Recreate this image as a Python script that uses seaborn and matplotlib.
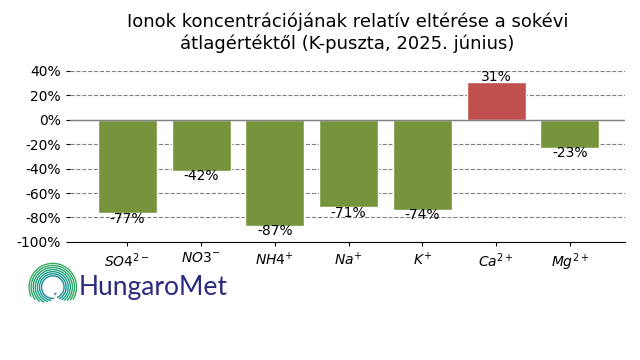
import numpy as np
import matplotlib
matplotlib.use("Agg")
import matplotlib.pyplot as plt
import seaborn as sns
import pandas as pd
from matplotlib.patches import Arc

# Data
ions = [r'$SO4^{2-}$', r'$NO3^{-}$', r'$NH4^{+}$', r'$Na^{+}$', r'$K^{+}$', r'$Ca^{2+}$', r'$Mg^{2+}$']
deviation = [-76.6, -41.6, -86.6, -71.2, -73.6, 31.0, -22.8]
labels = ['-77%', '-42%', '-87%', '-71%', '-74%', '31%', '-23%']
yticks = [40, 20, 0, -20, -40, -60, -80, -100]

green = '#77933C'
red = '#C0504D'

df = pd.DataFrame({'ion': ions, 'dev': deviation})
df['sign'] = np.where(df['dev'] >= 0, 'pos', 'neg')

sns.set_style('white', {'text.color': 'black', 'xtick.color': 'black', 'ytick.color': 'black',
                        'axes.labelcolor': 'black'})
plt.rcParams['font.family'] = ['DejaVu Sans']

fig = plt.figure(figsize=(6.4, 3.6), dpi=100)
ax = fig.add_axes([0.109, 0.328, 0.868, 0.475])

sns.barplot(data=df, x='ion', y='dev', hue='sign', palette={'pos': red, 'neg': green},
            dodge=False, width=0.8, legend=False, ax=ax, saturation=1)

ax.set_ylim(-100, 40)
ax.set_xlim(-0.78, 6.75)
ax.set_yticks(yticks)
ax.set_yticklabels([f'{t}%' for t in yticks])
ax.yaxis.grid(True, linestyle='--', color='gray', linewidth=0.8)
ax.set_axisbelow(True)
ax.axhline(0, color='gray', linewidth=1, zorder=1)
ax.set_xlabel('')
ax.set_ylabel('')
for s in ['top', 'right', 'left']:
    ax.spines[s].set_visible(False)
ax.spines['bottom'].set_color('black')
ax.tick_params(axis='both', which='both', length=3, labelsize=10, left=True, bottom=True,
               colors='black')

for i, (v, lab) in enumerate(zip(deviation, labels)):
    if v >= 0:
        ax.text(i, v - 1.5, lab, ha='center', va='bottom', fontsize=10, color='black')
    else:
        ax.text(i, v + 1.0, lab, ha='center', va='top', fontsize=10, color='black')

ax.set_title('Ionok koncentrációjának relatív eltérése a sokévi\nátlagértéktől (K-puszta, 2025. június)',
             fontsize=13, pad=16, color='black')

# logo swirl
lax = fig.add_axes([0.040, 0.13, 0.085, 0.145])
lax.set_aspect('equal')
lax.set_xlim(-1.1, 1.1)
lax.set_ylim(-1.1, 1.1)
lax.axis('off')
radii = np.linspace(0.3, 1.0, 9)
cols = sns.blend_palette(['#1B6FA8', '#17A08A', '#3BAA5C'], len(radii))
for k, (r, c) in enumerate(zip(radii, cols)):
    lax.add_patch(Arc((0, 0), 2 * r, 2 * r, theta1=-80 + k * 6, theta2=300 - k * 12,
                      color=c, linewidth=1.0))
fig.text(0.123, 0.2, 'HungaroMet', fontsize=19, color='#2B2A7E', va='center', ha='left',
         family='Lato')

fig.savefig('out.png', dpi=100)
